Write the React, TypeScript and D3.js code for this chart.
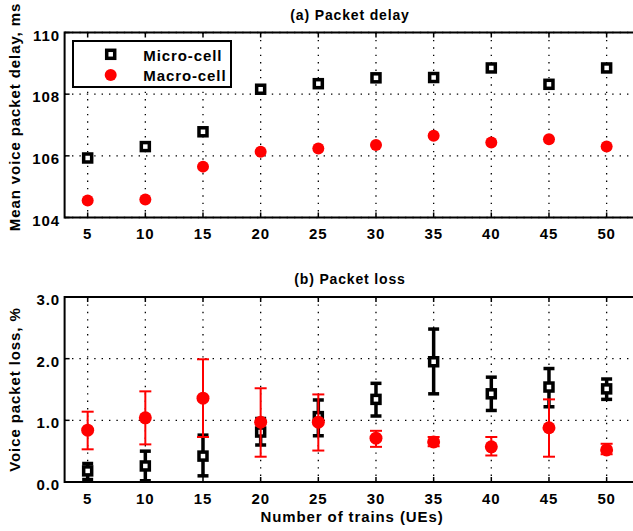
import * as d3 from 'd3';
import { useEffect, useRef } from 'react';

const trains = [5, 10, 15, 20, 25, 30, 35, 40, 45, 50];

// (a) mean voice packet delay, ms
const microDelay = [105.93, 106.3, 106.78, 108.16, 108.34, 108.53, 108.54, 108.85, 108.32, 108.85];
const macroDelay = [104.55, 104.58, 105.65, 106.13, 106.24, 106.35, 106.65, 106.43, 106.54, 106.3];

// (b) voice packet loss, % (mean + error bar ends)
const microLoss = [0.18, 0.26, 0.42, 0.81, 1.06, 1.34, 1.95, 1.43, 1.54, 1.51];
const microLossLow = [0.04, 0.02, 0.1, 0.6, 0.75, 1.07, 1.43, 1.16, 1.22, 1.34];
const microLossHigh = [0.3, 0.5, 0.76, 1.03, 1.33, 1.6, 2.48, 1.7, 1.84, 1.67];
const macroLoss = [0.84, 1.04, 1.36, 0.97, 0.97, 0.71, 0.65, 0.57, 0.88, 0.52];
const macroLossLow = [0.53, 0.61, 0.73, 0.41, 0.51, 0.57, 0.58, 0.43, 0.41, 0.45];
const macroLossHigh = [1.14, 1.47, 1.99, 1.52, 1.42, 0.83, 0.73, 0.73, 1.34, 0.62];

const delayTicks = [104, 106, 108, 110];
const lossTicks = [0, 1, 2, 3];

const FONT = '"Liberation Sans", Arial, Helvetica, sans-serif';
const RED = '#ff0000';

type Panel = {
    title: string;
    yLabel: string;
    domain: [number, number];
    range: [number, number];
    ticks: number[];
    fmt: (v: number) => string;
};

const App = () => {
    const svgRef = useRef<SVGSVGElement>(null);

    useEffect(() => {
        const width = 633;
        const height = 531;
        const svg = d3.select(svgRef.current);
        svg.selectAll('*').remove();
        svg.attr('width', width).attr('height', height);

        const left = 64.6;
        const x = d3.scaleLinear().domain([3, 55]).range([left, 664.3]);

        const panels: Panel[] = [
            {
                title: '(a) Packet delay',
                yLabel: 'Mean voice packet delay, ms',
                domain: [104, 110],
                range: [217.5, 32.5],
                ticks: delayTicks,
                fmt: (v) => String(v),
            },
            {
                title: '(b) Packet loss',
                yLabel: 'Voice packet loss, %',
                domain: [0, 3],
                range: [482, 297],
                ticks: lossTicks,
                fmt: (v) => v.toFixed(1),
            },
        ];

        const txt = (g: any, s: string, size: number) =>
            g
                .append('text')
                .style('font-family', FONT)
                .attr('font-weight', 'bold')
                .attr('font-size', size)
                .attr('letter-spacing', size * 0.06)
                .attr('fill', '#000')
                .text(s);

        const drawPanel = (p: Panel) => {
            const y = d3.scaleLinear().domain(p.domain).range(p.range);
            const [yb, yt] = p.range;
            const g = svg.append('g');

            // dotted grid
            trains.forEach((t) => {
                g.append('line')
                    .attr('x1', x(t)).attr('x2', x(t))
                    .attr('y1', yt).attr('y2', yb)
                    .attr('stroke', '#000').attr('stroke-width', 1.3)
                    .attr('stroke-dasharray', '1.4 6');
            });
            p.ticks.forEach((v) => {
                g.append('line')
                    .attr('x1', left).attr('x2', width)
                    .attr('y1', y(v)).attr('y2', y(v))
                    .attr('stroke', '#000').attr('stroke-width', 1.3)
                    .attr('stroke-dasharray', '1.4 6');
            });

            // ticks inside the box
            trains.forEach((t) => {
                g.append('line').attr('x1', x(t)).attr('x2', x(t)).attr('y1', yb).attr('y2', yb - 5)
                    .attr('stroke', '#000').attr('stroke-width', 1.5);
                g.append('line').attr('x1', x(t)).attr('x2', x(t)).attr('y1', yt).attr('y2', yt + 5)
                    .attr('stroke', '#000').attr('stroke-width', 1.5);
                txt(g, String(t), 15)
                    .attr('x', x(t))
                    .attr('y', yb + 21.5)
                    .attr('text-anchor', 'middle');
            });
            p.ticks.forEach((v) => {
                g.append('line').attr('x1', left).attr('x2', left + 5).attr('y1', y(v)).attr('y2', y(v))
                    .attr('stroke', '#000').attr('stroke-width', 1.5);
                txt(g, p.fmt(v), 15)
                    .attr('x', 60)
                    .attr('y', y(v) + 8)
                    .attr('text-anchor', 'end');
            });

            txt(g, p.title, 14).attr('x', 350).attr('y', yt - 13).attr('text-anchor', 'middle');
            txt(g, p.yLabel, 15)
                .attr('text-anchor', 'middle')
                .attr('transform', `translate(19.5, ${p === panels[0] ? 117 : (yt + yb) / 2}) rotate(-90)`);

            return { g, y };
        };

        const square = (g: any, cx: number, cy: number) =>
            g.append('rect')
                .attr('x', cx - 4).attr('y', cy - 4)
                .attr('width', 8).attr('height', 8)
                .attr('fill', '#fff').attr('stroke', '#000').attr('stroke-width', 3.5);

        const dot = (g: any, cx: number, cy: number, r: number) =>
            g.append('circle').attr('cx', cx).attr('cy', cy).attr('r', r).attr('fill', RED);

        const errorBar = (g: any, cx: number, y0: number, y1: number, color: string, w: number, half: number) => {
            g.append('line').attr('x1', cx).attr('x2', cx).attr('y1', y0).attr('y2', y1)
                .attr('stroke', color).attr('stroke-width', w);
            [y0, y1].forEach((yy) => {
                g.append('line').attr('x1', cx - half).attr('x2', cx + half).attr('y1', yy).attr('y2', yy)
                    .attr('stroke', color).attr('stroke-width', w);
            });
        };

        // (a) delay
        const a = drawPanel(panels[0]);
        trains.forEach((t, i) => square(a.g, x(t), a.y(microDelay[i])));
        trains.forEach((t, i) => dot(a.g, x(t), a.y(macroDelay[i]), 6));

        // (b) loss
        const b = drawPanel(panels[1]);
        trains.forEach((t, i) => {
            errorBar(b.g, x(t), b.y(microLossLow[i]), b.y(microLossHigh[i]), '#000', 3.5, 5.5);
            square(b.g, x(t), b.y(microLoss[i]));
        });
        trains.forEach((t, i) => {
            errorBar(b.g, x(t), b.y(macroLossLow[i]), b.y(macroLossHigh[i]), RED, 2, 6);
            dot(b.g, x(t), b.y(macroLoss[i]), 6.5);
        });

        // axis frames (right side runs off the page)
        panels.forEach((p) => {
            const [yb, yt] = p.range;
            svg.append('path')
                .attr('d', `M${width},${yt}H${left}V${yb}H${width}`)
                .attr('fill', 'none').attr('stroke', '#000').attr('stroke-width', 2);
        });

        txt(svg, 'Number of trains (UEs)', 15).attr('x', 352).attr('y', 522).attr('text-anchor', 'middle');

        // legend
        const legend = svg.append('g');
        legend.append('rect')
            .attr('x', 73).attr('y', 41).attr('width', 158).attr('height', 46)
            .attr('fill', '#fff').attr('stroke', '#000').attr('stroke-width', 2);
        square(legend, 110.7, 54.3);
        dot(legend, 110.7, 75, 6);
        txt(legend, 'Micro-cell', 15).attr('x', 143.3).attr('y', 60.5);
        txt(legend, 'Macro-cell', 15).attr('x', 143.3).attr('y', 81);
    }, []);

    return <svg ref={svgRef} style={{ position: 'absolute', left: 0, top: 0, background: '#fff' }} />;
};

export default App;
